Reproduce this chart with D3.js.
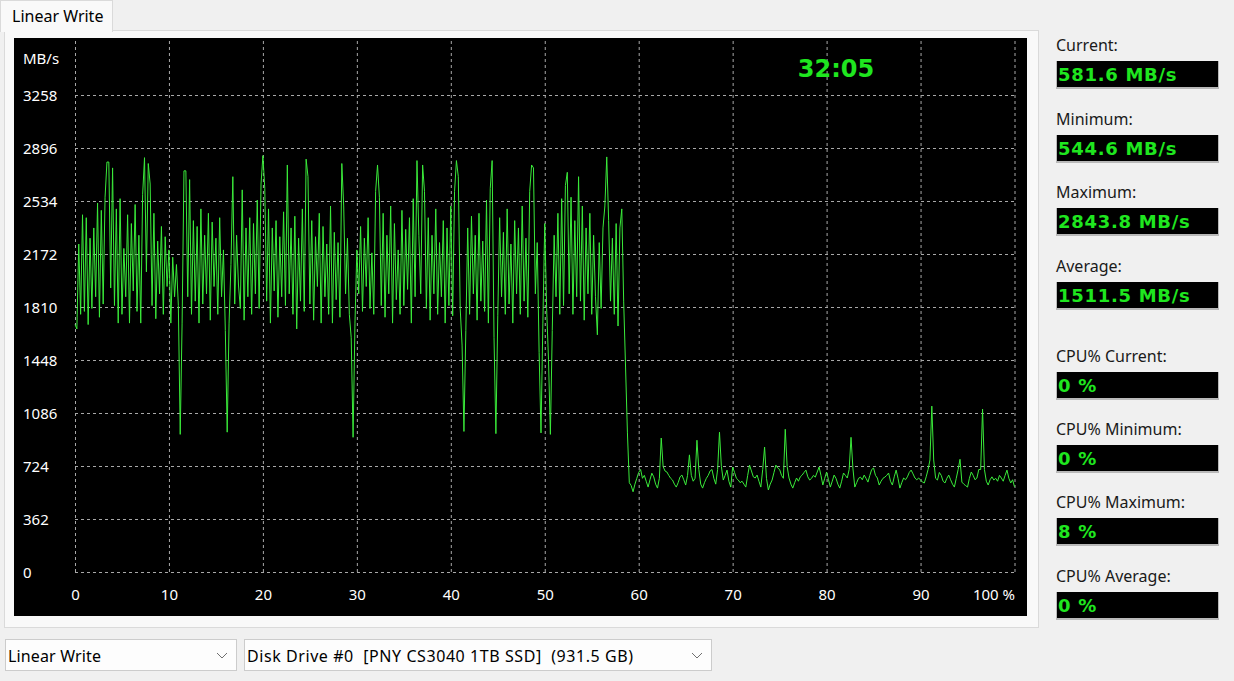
<!DOCTYPE html>
<html>
<head>
<meta charset="utf-8">
<script src="https://cdn.jsdelivr.net/npm/d3@7"></script>
<style>
html, body { margin: 0; padding: 0; background: #f0f0f0; overflow: hidden; }
svg { display: block; }
</style>
</head>
<body>
<script>
// write speed in MB/s, one sample every 0.2 % of the drive
// burst phase (SLC cache) then the drop
var writeBurst = [
  1690,1660,2240,1760,2440,1780,2420,1690,2280,1800,2350,1880,2520,1740,2470,1830,2560,2800,2800,1940,
  2760,1820,2480,1700,2550,1760,2210,1880,2440,1700,2380,1920,2510,1780,2300,1700,2580,2830,2050,2790,
  2650,1820,2450,1730,2260,1900,2360,1760,2290,1950,2200,1700,2150,1880,2100,1820,940,1700,2740,2740,
  1880,2680,1760,2400,1850,2360,1700,2480,1830,2300,1900,2450,1720,2390,1950,2280,1760,2420,1880,2200,
  1650,955,1700,2100,2700,1830,2300,1960,1800,2610,1720,2350,1880,2420,1760,2380,1900,2540,1800,2650,
  2843.8,2620,1850,2480,1700,2350,1920,2400,1740,2290,1880,2460,1820,2780,1900,2350,1760,2430,1660,2280,
  1850,2480,1780,2820,2700,1830,2400,1720,2290,1950,2450,1700,2360,1880,2240,1760,2500,1700,2320,1860,
  2250,1740,2790,2500,1900,2280,1760,1600,920,1700,2200,1900,2360,1780,2280,1950,2420,1800,2180,1760,
  2600,2780,2560,1820,2450,1740,2300,1900,2500,1700,2380,1860,2200,1760,2470,1820,2340,1930,2420,1700,
  2550,1880,2810,2300,1900,2780,2600,1800,2420,1720,2300,1900,2480,1760,2250,1880,2400,1700,2350,1820,
  2500,1750,2600,2810,2700,1800,1550,960,1650,2350,1760,2430,1900,2300,1720,2450,1850,2260,1780,2540,
  1700,2620,2810,1600,945,1750,2420,1880,2320,1760,2480,1830,2240,1700,2400,1900,2350,1760,2500,1850,
  2280,1740,2600,2780,2760,1900,2250,1500,950,1700,2380,1800,1450,940,1650,2300,1880,2450,1760,2550,
  1820,2640,2730,1900,2560,1760,2400,1880,2700,1850,2500,1720,2350,1900,2450,1760,2300,1880,1620,2250,
  1800,2350,2500,2835,2400,1850,2280,1760,2380,1680,2350,2480,1850,1400,950,610
];
// after the cache is full
var writeSteady = [
  590,548,600,640,680,700,640,660,620,580,630,675,650,600,573,640,915,720,690,683,
  660,640,628,600,580,610,650,662,630,594,660,800,660,620,640,900,700,600,573,610,
  640,660,690,700,640,600,700,955,720,628,660,696,620,580,717,680,640,628,610,620,
  600,580,660,730,690,650,642,662,620,580,700,853,640,560,600,628,680,730,710,700,
  660,640,975,720,642,600,573,610,642,620,650,662,680,696,650,628,640,660,648,683,
  717,660,594,640,683,630,580,620,662,640,600,573,620,676,660,642,700,920,710,580,
  610,640,648,630,662,640,614,660,700,710,660,642,594,620,640,648,660,676,620,594,
  650,696,640,573,610,642,630,650,680,696,670,642,630,642,628,614,608,650,700,765,
  1133,765,640,628,680,660,620,608,640,662,630,600,580,640,700,770,614,600,590,580,
  640,683,660,630,642,700,700,1113,700,620,594,630,650,628,640,620,660,642,620,660,
  696,640,608,630,581.6
];

var yTicks = [0, 362, 724, 1086, 1448, 1810, 2172, 2534, 2896, 3258];
var xTicks = [0, 10, 20, 30, 40, 50, 60, 70, 80, 90, 100];

var statLabels = ["Current:", "Minimum:", "Maximum:", "Average:",
                  "CPU% Current:", "CPU% Minimum:", "CPU% Maximum:", "CPU% Average:"];
var statValues = ["581.6 MB/s", "544.6 MB/s", "2843.8 MB/s", "1511.5 MB/s",
                  "0 %", "0 %", "8 %", "0 %"];
var statTops = [61, 135, 208, 282, 372, 445, 518, 592];

var elapsed = "32:05";
var testName = "Linear Write";
var driveName = "Disk Drive #0  [PNY CS3040 1TB SSD]  (931.5 GB)";

var uiFont = "'Noto Sans', 'Segoe UI', sans-serif";
var monoBold = "'DejaVu Sans', Verdana, sans-serif";
var green = "#1fe61f";

var speed = writeBurst.concat(writeSteady);
var step = 100 / (speed.length - 1);

var svg = d3.select("body").append("svg")
    .attr("width", 1234)
    .attr("height", 681);

svg.append("rect").attr("width", 1234).attr("height", 681).attr("fill", "#f0f0f0");

// tab + page
svg.append("rect")
    .attr("x", 4.5).attr("y", 30.5).attr("width", 1034).attr("height", 597)
    .attr("fill", "#f9f9f9").attr("stroke", "#dadada");
svg.append("rect")
    .attr("x", 0.5).attr("y", 0.5).attr("width", 112).attr("height", 31)
    .attr("fill", "#f9f9f9").attr("stroke", "#dadada");
svg.append("rect")
    .attr("x", 1).attr("y", 30).attr("width", 111).attr("height", 2)
    .attr("fill", "#f9f9f9");
svg.append("text")
    .attr("x", 12).attr("y", 22)
    .style("font-family", uiFont).style("font-size", "16px")
    .attr("fill", "#000")
    .text(testName);

// plot background
svg.append("rect")
    .attr("x", 14).attr("y", 38).attr("width", 1013).attr("height", 578)
    .attr("fill", "#000");

var x = d3.scaleLinear().domain([0, 100]).range([75, 1014.5]);
var y = d3.scaleLinear().domain([0, 3258]).range([572, 95]);

var gx = svg.append("g")
    .attr("transform", "translate(0,572)")
    .call(d3.axisBottom(x)
        .tickValues(xTicks)
        .tickSize(-(572 - 38))
        .tickFormat(function (d) { return d === 100 ? "100 %" : d; }));
gx.select(".domain").remove();
gx.selectAll(".tick line")
    .attr("stroke", "#a8a8a8")
    .attr("stroke-dasharray", "3,3");
gx.selectAll(".tick text")
    .attr("y", 27.5).attr("dy", 0)
    .attr("fill", "#fff")
    .style("font-family", uiFont).style("font-size", "15px")
    .attr("text-anchor", function (d) { return d === 100 ? "end" : "middle"; });

var gy = svg.append("g")
    .attr("transform", "translate(75,0)")
    .call(d3.axisLeft(y)
        .tickValues(yTicks)
        .tickSize(-(1014.5 - 75))
        .tickFormat(function (d) { return d; }));
gy.select(".domain").remove();
gy.selectAll(".tick line")
    .attr("stroke", "#a8a8a8")
    .attr("stroke-dasharray", "3,3");
gy.selectAll(".tick text")
    .attr("x", -52).attr("dy", "0.36em")
    .attr("text-anchor", "start")
    .attr("fill", "#fff")
    .style("font-family", uiFont).style("font-size", "15px");

svg.append("text")
    .attr("x", 23).attr("y", 64)
    .attr("fill", "#fff")
    .style("font-family", uiFont).style("font-size", "15px")
    .text("MB/s");

// speed trace
var line = d3.line()
    .x(function (d, i) { return x(i * step); })
    .y(function (d) { return y(d); });

svg.append("path")
    .datum(speed)
    .attr("d", line)
    .attr("fill", "none")
    .attr("stroke", "#3aea3a")
    .attr("stroke-width", 1);

svg.append("text")
    .attr("x", 836).attr("y", 77)
    .attr("text-anchor", "middle")
    .attr("fill", green)
    .style("font-family", monoBold).style("font-size", "24px").style("font-weight", "bold")
    .text(elapsed);

// stats column
var stat = svg.append("g").selectAll("g")
    .data(statLabels)
    .enter().append("g");

stat.append("text")
    .attr("x", 1056)
    .attr("y", function (d, i) { return statTops[i] - 10; })
    .attr("fill", "#1a1a1a")
    .style("font-family", uiFont).style("font-size", "16px")
    .text(function (d) { return d; });

stat.append("rect")
    .attr("x", 1056).attr("y", function (d, i) { return statTops[i]; })
    .attr("width", 163).attr("height", 28)
    .attr("fill", "#b9b9b9");
stat.append("rect")
    .attr("x", 1057).attr("y", function (d, i) { return statTops[i]; })
    .attr("width", 161).attr("height", 26)
    .attr("fill", "#000");

stat.append("text")
    .attr("x", 1058)
    .attr("y", function (d, i) { return statTops[i] + 20; })
    .attr("fill", green)
    .style("font-family", monoBold).style("font-size", "18px").style("font-weight", "bold")
    .style("letter-spacing", "0.7px")
    .text(function (d, i) { return statValues[i]; });

// combo boxes
var combos = [
  { label: testName, x: 5, w: 231, len: 93 },
  { label: driveName, x: 244, w: 467, len: 386 }
];
var combo = svg.append("g").selectAll("g")
    .data(combos)
    .enter().append("g");
combo.append("rect")
    .attr("x", function (d) { return d.x + 0.5; }).attr("y", 639.5)
    .attr("width", function (d) { return d.w; }).attr("height", 31)
    .attr("fill", "#fdfdfd").attr("stroke", "#cccccc");
combo.append("text")
    .attr("x", function (d) { return d.x + 3; }).attr("y", 662)
    .attr("fill", "#000")
    .style("font-family", uiFont).style("font-size", "16px")
    .style("white-space", "pre")
    .attr("xml:space", "preserve")
    .attr("textLength", function (d) { return d.len; })
    .attr("lengthAdjust", "spacing")
    .text(function (d) { return d.label; });
combo.append("path")
    .attr("d", function (d) {
      var cx = d.x + d.w - 14;
      return "M" + (cx - 5) + ",653 L" + cx + ",658 L" + (cx + 5) + ",653";
    })
    .attr("fill", "none")
    .attr("stroke", "#707070");
</script>
</body>
</html>
